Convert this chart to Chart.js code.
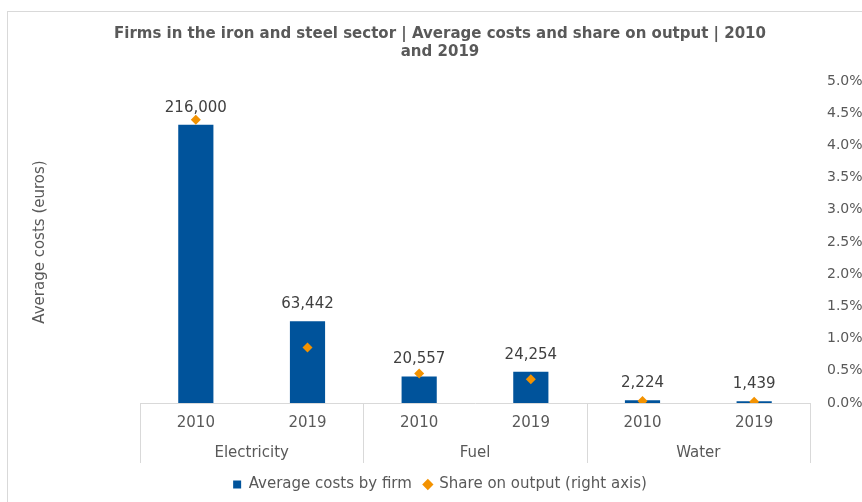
<!DOCTYPE html>
<html>
<head>
<meta charset="utf-8">
<script src="https://cdn.jsdelivr.net/npm/chart.js@4/dist/chart.umd.min.js"></script>
<style>
  html, body { margin: 0; padding: 0; background: #fff; overflow: hidden; }
  #wrap { position: relative; width: 862px; height: 502px; overflow: hidden; }
  #frame {
    position: absolute; left: 7px; top: 11px; width: 900px; height: 600px;
    border: 1px solid #d9d9d9;
  }
  #chart { position: absolute; left: 0; top: 0; }
</style>
</head>
<body>
<div id="wrap">
  <div id="frame"></div>
  <canvas id="chart" width="880" height="502"></canvas>
</div>
<script>
const categories = ['2010', '2019', '2010', '2019', '2010', '2019']
const groups = ['Electricity', 'Fuel', 'Water']
const avgCosts = [216000, 63442, 20557, 24254, 2224, 1439]
const shareOnOutput = [4.4, 0.86, 0.46, 0.37, 0.03, 0.02]

const GREY = '#595959'
const FONT = 'DejaVu Sans'

// value labels above each bar
const barLabels = {
  id: 'barLabels',
  afterDatasetsDraw(chart) {
    const {ctx} = chart
    const meta = chart.getDatasetMeta(1)
    ctx.save()
    ctx.font = `15px "${FONT}"`
    ctx.fillStyle = '#404040'
    ctx.textAlign = 'center'
    ctx.textBaseline = 'middle'
    meta.data.forEach((bar, i) => {
      ctx.fillText(avgCosts[i].toLocaleString('en-US'), bar.x, bar.y - 17)
    })
    ctx.restore()
  },
}

// second row of the category axis: group names + separators
const groupAxis = {
  id: 'groupAxis',
  afterDraw(chart) {
    const {ctx, chartArea} = chart
    const x = chart.scales.x
    const half = (x.getPixelForValue(1) - x.getPixelForValue(0)) / 2
    const top = chartArea.bottom
    ctx.save()
    ctx.strokeStyle = '#d9d9d9'
    ctx.lineWidth = 1
    for (let g = 0; g <= groups.length; g++) {
      const px = Math.round(x.getPixelForValue(g * 2) - half) + 0.5
      ctx.beginPath()
      ctx.moveTo(px, top)
      ctx.lineTo(px, top + 60)
      ctx.stroke()
    }
    ctx.font = `15px "${FONT}"`
    ctx.fillStyle = GREY
    ctx.textAlign = 'center'
    ctx.textBaseline = 'middle'
    groups.forEach((name, g) => {
      const cx = (x.getPixelForValue(g * 2) + x.getPixelForValue(g * 2 + 1)) / 2
      ctx.fillText(name, cx, top + 50)
    })
    ctx.restore()
  },
}

new Chart(document.getElementById('chart'), {
  data: {
    labels: categories,
    datasets: [
      {
        type: 'line',
        label: 'Share on output (right axis)',
        data: shareOnOutput,
        yAxisID: 'y1',
        showLine: false,
        pointStyle: 'rectRot',
        pointRadius: 5,
        pointHoverRadius: 5,
        backgroundColor: '#F39200',
        borderColor: '#F39200',
        borderWidth: 0,
        order: 0,
      },
      {
        type: 'bar',
        label: 'Average costs by firm',
        data: avgCosts,
        yAxisID: 'y',
        backgroundColor: '#00539B',
        pointStyle: 'rect',
        categoryPercentage: 1,
        barPercentage: 0.315,
        order: 1,
      },
    ],
  },
  options: {
    responsive: false,
    animation: false,
    layout: {padding: {left: 0, right: 0, top: 0, bottom: 0}},
    plugins: {
      title: {
        display: true,
        text: [
          'Firms in the iron and steel sector | Average costs and share on output | 2010',
          'and 2019',
        ],
        color: GREY,
        font: {family: FONT, size: 15, weight: 'bold', lineHeight: 18 / 15},
        padding: {top: 25, bottom: 20},
      },
      legend: {
        position: 'bottom',
        reverse: true,
        labels: {
          usePointStyle: true,
          boxWidth: 8,
          boxHeight: 8,
          padding: 12,
          color: GREY,
          font: {family: FONT, size: 15},
        },
      },
      tooltip: {enabled: false},
    },
    scales: {
      x: {
        grid: {display: false, drawTicks: false},
        border: {display: true, color: '#d9d9d9'},
        ticks: {color: GREY, font: {family: FONT, size: 15}, padding: 11},
        afterFit: scale => {
          scale.height = 62
        },
      },
      y: {
        position: 'left',
        min: 0,
        max: 250000,
        grid: {display: false, drawTicks: false},
        border: {display: false},
        ticks: {display: false},
        title: {
          display: true,
          text: 'Average costs (euros)',
          color: GREY,
          font: {family: FONT, size: 15},
          padding: {top: 31, bottom: 4},
        },
        afterFit: scale => {
          scale.width = 140
        },
      },
      y1: {
        position: 'right',
        min: 0,
        max: 5,
        grid: {display: false, drawTicks: false},
        border: {display: false},
        ticks: {
          stepSize: 0.5,
          padding: 17,
          color: GREY,
          font: {family: FONT, size: 14},
          callback: v => v.toFixed(1) + '%',
        },
        afterFit: scale => {
          scale.width = 70
        },
      },
    },
  },
  plugins: [barLabels, groupAxis],
})
</script>
</body>
</html>
